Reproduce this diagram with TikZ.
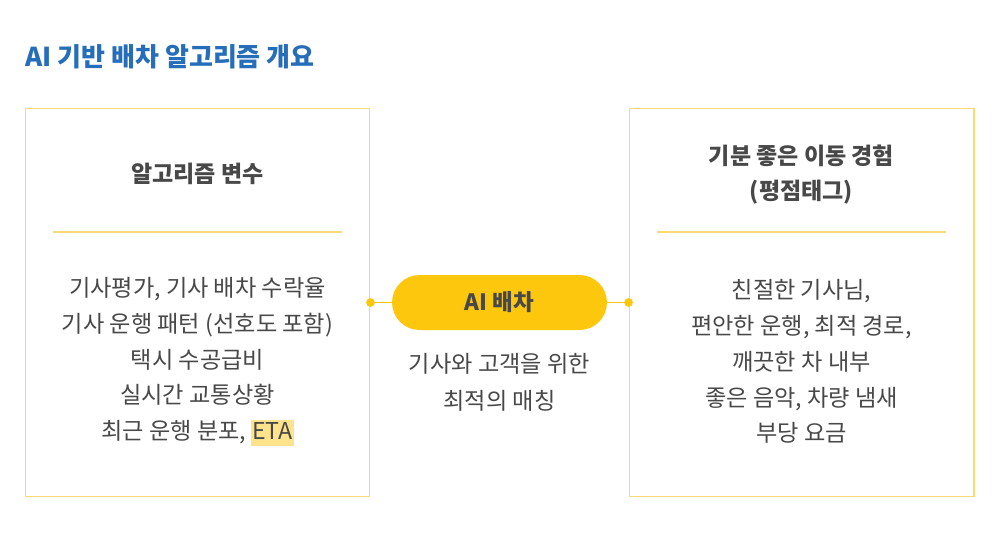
\documentclass[tikz,border=0pt]{standalone}
\usepackage{fontspec}
\setmainfont{Noto Sans CJK KR}
\usepackage{xcolor}
\usepackage{tikz}
\usetikzlibrary{positioning}
\definecolor{ttlblue}{RGB}{38,110,186}
\definecolor{boxyel}{RGB}{247,218,115}
\definecolor{pillyel}{RGB}{252,199,12}
\definecolor{txtgray}{RGB}{72,72,72}
\definecolor{etahl}{RGB}{253,228,140}
\tikzset{
  pbox/.style={draw=boxyel, line width=0.6pt, minimum width=6.9cm, minimum height=7.78cm, inner sep=0pt},
  phead/.style={font=\fontsize{13.1}{20}\selectfont\bfseries, text=txtgray, align=center},
  ptext/.style={font=\fontsize{13.2}{20.4}\selectfont, text=txtgray, align=center},
  sep/.style={draw=boxyel, line width=0.6pt},
  pill/.style={fill=pillyel, rounded corners=0.55cm, minimum width=4.3cm, minimum height=1.1cm,
    font=\fontsize{12.8}{15}\selectfont\bfseries, text=txtgray},
  joint/.style={circle, fill=pillyel, inner sep=0pt, minimum size=5pt},
  link/.style={draw=pillyel, line width=0.7pt},
}

\begin{document}
\begin{tikzpicture}[x=0.02cm, y=-0.02cm]
  \useasboundingbox (0,0) rectangle (1000,548);
  \node[font=\fontsize{14.8}{17}\selectfont\bfseries, text=ttlblue, anchor=west, inner sep=0pt] (title) at (25,57) {AI 기반 배차 알고리즘 개요};
  % left box
  \node[pbox] (lbox) at (197.5,302.5) {};
  \node[phead] (lhead) at (197.5,174) {알고리즘 변수};
  \draw[sep] (53,232) -- (342,232);
  \node[ptext] (llist) at (197.5,361.5) {기사평가, 기사 배차 수락율\\기사 운행 패턴 (선호도 포함)\\택시 수공급비\\실시간 교통상황\\최근 운행 분포, {\setlength\fboxsep{0.5pt}\colorbox{etahl}{\rule[-3pt]{0pt}{13.5pt}ETA}}};
  % right box
  \node[pbox] (rbox) at (801.5,302.5) {};
  \node[phead, font=\fontsize{13.1}{19.8}\selectfont\bfseries] (rhead) at (801.5,174.5) {기분 좋은 이동 경험\\(평점태그)};
  \draw[sep] (657,232) -- (946,232);
  \node[ptext] (rlist) at (801.5,361.5) {친절한 기사님,\\편안한 운행, 최적 경로,\\깨끗한 차 내부\\좋은 음악, 차량 냄새\\부당 요금};
  % center
  \node[pill] (ai) at (499.5,302.5) {AI 배차};
  \node[ptext, font=\fontsize{13.2}{21}\selectfont] (aisub) at (499.5,382.5) {기사와 고객을 위한\\최적의 매칭};
  \draw[link] (lbox.east) -- (ai.west);
  \draw[link] (ai.east) -- (rbox.west);
  \node[joint] (lj) at (lbox.east) {};
  \node[joint] (rj) at (rbox.west) {};
\end{tikzpicture}
\end{document}
